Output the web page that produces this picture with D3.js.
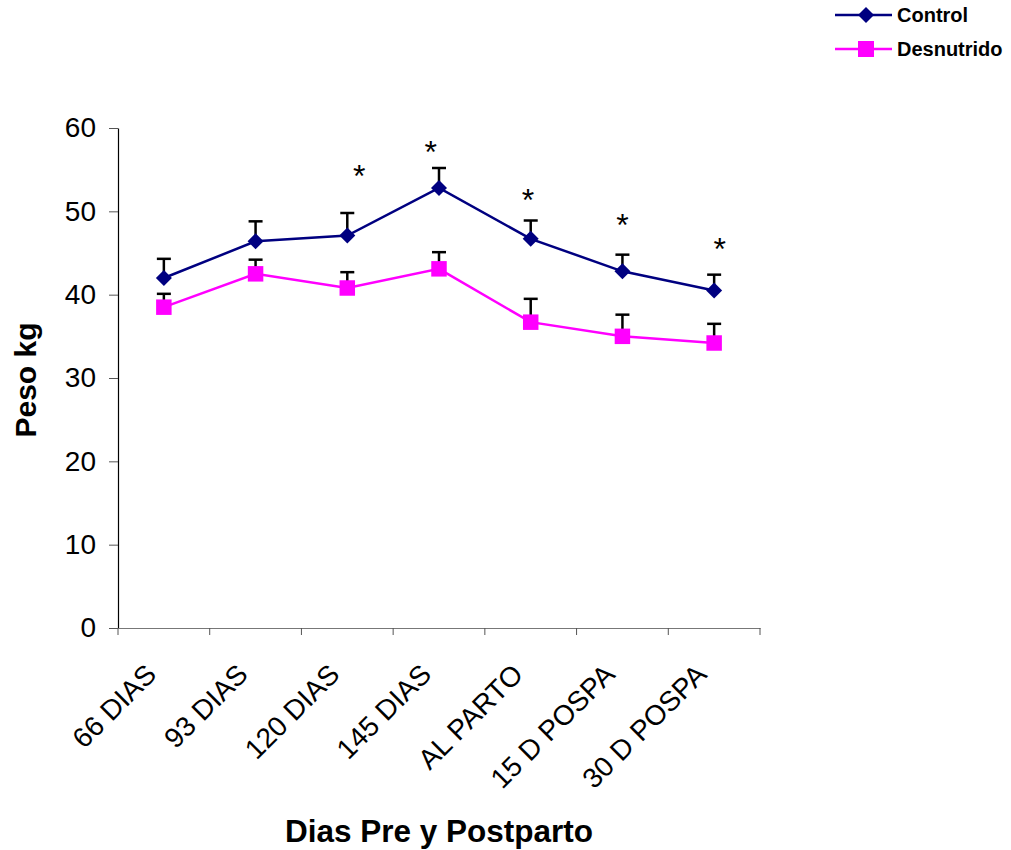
<!DOCTYPE html>
<html>
<head>
<meta charset="utf-8">
<script src="https://cdn.jsdelivr.net/npm/d3@7"></script>
<style>
  body { margin: 0; background: #fff; }
  text { font-family: "Liberation Sans", Arial, sans-serif; }
</style>
</head>
<body>
<svg width="1011" height="850"></svg>
<script>
var categories = ["66 DIAS", "93 DIAS", "120 DIAS", "145 DIAS", "AL PARTO", "15 D POSPA", "30 D POSPA"];
var control = [42.0, 46.4, 47.1, 52.8, 46.7, 42.8, 40.5];
var controlErr = [2.3, 2.4, 2.7, 2.4, 2.2, 2.0, 1.9];
var desnutrido = [38.5, 42.5, 40.8, 43.1, 36.7, 35.0, 34.2];
var desnutridoErr = [1.6, 1.7, 1.9, 2.0, 2.8, 2.6, 2.3];
var starLevel = [null, null, 54.7, 57.5, 51.8, 48.8, 45.9];
var starShift = [0, 0, 0.13, -0.09, -0.03, 0, 0.06];
var yTicks = [0, 10, 20, 30, 40, 50, 60];

var svg = d3.select("svg");
var margin = {left: 118, right: 251, top: 128, bottom: 222};
var width = 1011 - margin.left - margin.right,
    height = 850 - margin.top - margin.bottom;

var g = svg.append("g").attr("transform", "translate(" + margin.left + "," + margin.top + ")");

var x = d3.scaleBand().domain(categories).range([0, width]);
var y = d3.scaleLinear().domain([0, 60]).range([height, 0]);
var cx = function(d, i) { return x(categories[i]) + x.bandwidth() / 2; };

// y axis
var yAxis = g.append("g")
    .call(d3.axisLeft(y).tickValues(yTicks).tickSize(9).tickPadding(13).tickSizeOuter(0));
yAxis.select(".domain").attr("stroke", "#000").attr("stroke-width", 1.2);
yAxis.selectAll(".tick line").attr("stroke", "#555");
yAxis.selectAll("text").attr("font-size", 28).attr("fill", "#000");

// x axis
var xAxis = g.append("g").attr("transform", "translate(0," + height + ")")
    .call(d3.axisBottom(x).tickSize(0).tickFormat(""));
xAxis.select(".domain").attr("stroke", "#777").attr("stroke-width", 1.2);
g.append("g").attr("transform", "translate(0," + height + ")")
  .selectAll("line").data(d3.range(categories.length + 1))
  .enter().append("line")
    .attr("x1", function(i) { return i * x.step(); })
    .attr("x2", function(i) { return i * x.step(); })
    .attr("y1", 0).attr("y2", 7)
    .attr("stroke", "#555");

g.append("g").selectAll("text").data(categories).enter().append("text")
    .attr("transform", function(d) { return "translate(" + (x(d) + x.bandwidth() / 2 - 6) + "," + (height + 48) + ") rotate(-45)"; })
    .attr("text-anchor", "end")
    .attr("font-size", 28)
    .text(function(d) { return d; });

// axis titles
svg.append("text")
    .attr("x", margin.left + width / 2).attr("y", 842)
    .attr("text-anchor", "middle").attr("font-size", 31.5).attr("font-weight", "bold")
    .text("Dias Pre y Postparto");
svg.append("text")
    .attr("transform", "translate(36,380) rotate(-90)")
    .attr("text-anchor", "middle").attr("font-size", 30).attr("font-weight", "bold")
    .text("Peso kg");

// error bars
function errorBars(vals, errs) {
  var eb = g.append("g").attr("stroke", "#000").attr("stroke-width", 2.5);
  eb.selectAll(".v").data(vals).enter().append("line")
      .attr("x1", cx).attr("x2", cx)
      .attr("y1", function(d) { return y(d); })
      .attr("y2", function(d, i) { return y(d + errs[i]); });
  eb.selectAll(".c").data(vals).enter().append("line")
      .attr("x1", function(d, i) { return cx(d, i) - 7; })
      .attr("x2", function(d, i) { return cx(d, i) + 7; })
      .attr("y1", function(d, i) { return y(d + errs[i]); })
      .attr("y2", function(d, i) { return y(d + errs[i]); });
}
errorBars(control, controlErr);
errorBars(desnutrido, desnutridoErr);

var line = d3.line().x(cx).y(function(d) { return y(d); });

g.append("path").datum(desnutrido)
    .attr("fill", "none").attr("stroke", "#ff00ff").attr("stroke-width", 2.5).attr("d", line);
g.append("path").datum(control)
    .attr("fill", "none").attr("stroke", "#000080").attr("stroke-width", 2.5).attr("d", line);

var square = d3.symbol().type(d3.symbolSquare).size(240);
var diamond = "M0,-8L8,0L0,8L-8,0Z";

g.selectAll(".sq").data(desnutrido).enter().append("path")
    .attr("d", square)
    .attr("transform", function(d, i) { return "translate(" + cx(d, i) + "," + y(d) + ")"; })
    .attr("fill", "#ff00ff");
g.selectAll(".dm").data(control).enter().append("path")
    .attr("d", diamond)
    .attr("transform", function(d, i) { return "translate(" + cx(d, i) + "," + y(d) + ")"; })
    .attr("fill", "#000080");

// significance stars
g.selectAll(".star").data(starLevel).enter()
  .filter(function(d) { return d !== null; })
  .append("text")
    .attr("x", function(d) { var i = starLevel.indexOf(d); return cx(d, i) + starShift[i] * x.step(); })
    .attr("y", function(d) { return y(d); })
    .attr("dy", "0.45em")
    .attr("text-anchor", "middle")
    .attr("font-size", 32)
    .text("*");

// legend
var legend = svg.append("g").attr("transform", "translate(835,15)");
var series = [
  {name: "Control", color: "#000080", shape: diamond},
  {name: "Desnutrido", color: "#ff00ff", shape: d3.symbol().type(d3.symbolSquare).size(256)()}
];
var li = legend.selectAll("g").data(series).enter().append("g")
    .attr("transform", function(d, i) { return "translate(0," + i * 34 + ")"; });
li.append("line").attr("x1", 0).attr("x2", 57).attr("stroke", function(d) { return d.color; }).attr("stroke-width", 2.5);
li.append("path").attr("d", function(d) { return d.shape; })
    .attr("transform", "translate(31,0)").attr("fill", function(d) { return d.color; });
li.append("text").attr("x", 62).attr("dy", "0.36em")
    .attr("font-size", 20).attr("font-weight", "bold").text(function(d) { return d.name; });
</script>
</body>
</html>
